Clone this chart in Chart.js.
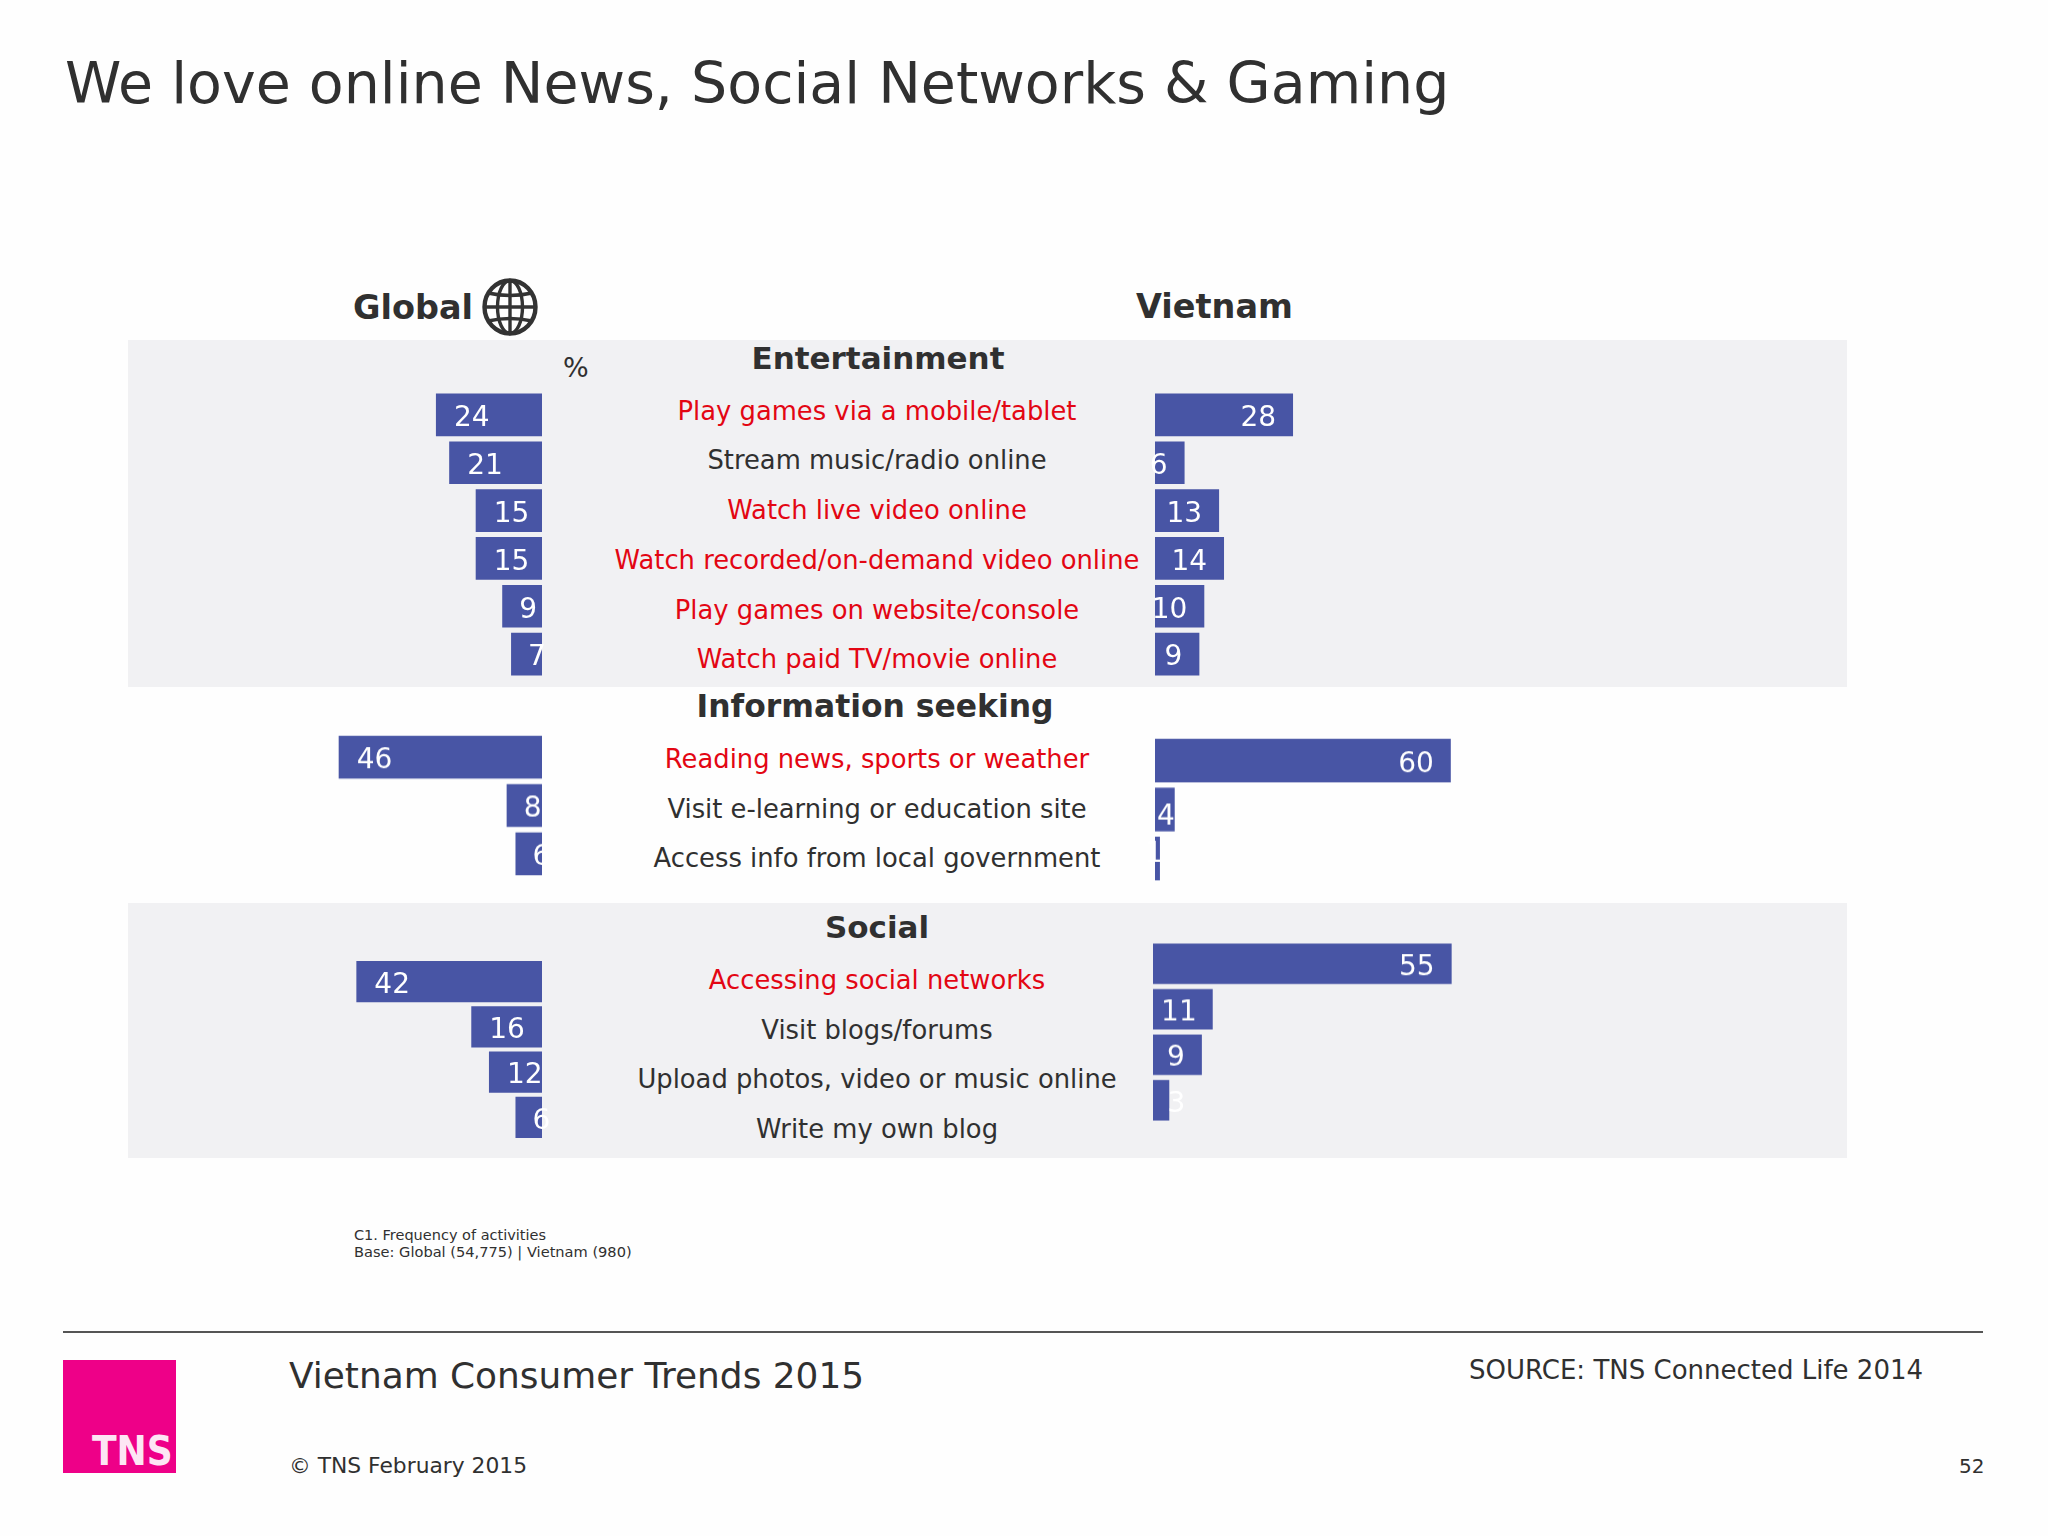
<!DOCTYPE html>
<html><head><meta charset="utf-8">
<script src="https://cdn.jsdelivr.net/npm/chart.js@4"></script>
<style>
html,body{margin:0;padding:0;background:#fefefe;width:2048px;height:1536px;overflow:hidden}
body{position:relative;font-family:"DejaVu Sans",sans-serif;color:#303030}
.t{position:absolute;white-space:nowrap;line-height:1;transform:translateY(-50%)}
.c{transform:translate(-50%,-50%)}
.p{position:absolute;background:#f1f1f3}
canvas{position:absolute}
</style></head><body>
<script>
// ---- data ----
const entertainmentLabels = ["Play games via a mobile/tablet","Stream music/radio online","Watch live video online","Watch recorded/on-demand video online","Play games on website/console","Watch paid TV/movie online"];
const informationLabels = ["Reading news, sports or weather","Visit e-learning or education site","Access info from local government"];
const socialLabels = ["Accessing social networks","Visit blogs/forums","Upload photos, video or music online","Write my own blog"];
const entertainmentHighlighted = [true,false,true,true,true,true];
const informationHighlighted = [true,false,false];
const socialHighlighted = [true,false,false,false];
const globalEntertainment = [24,21,15,15,9,7];
const globalInformation = [46,8,6];
const globalSocial = [42,16,12,6];
const vietnamEntertainment = [28,6,13,14,10,9];
const vietnamInformation = [60,4,1];
const vietnamSocial = [55,11,9,3];

// ---- page furniture ----
function put(text,x,y,size,o={}){
  const d=document.createElement('div');
  d.className='t '+(o.cls||'');d.textContent=text;
  d.style.cssText=`left:${x}px;top:${y}px;font-size:${size}px;`+(o.bold?'font-weight:bold;':'')+(o.color?`color:${o.color};`:'')+(o.css||'');
  document.body.appendChild(d);return d;
}
function panel(x,y,w,h){const d=document.createElement('div');d.className='p';d.style.cssText=`left:${x}px;top:${y}px;width:${w}px;height:${h}px`;document.body.appendChild(d);}
panel(128,340,1719,347);
panel(128,903,1719,255);

put("We love online News, Social Networks & Gaming",65,83,57);
put("Global",353,308,33.5,{bold:true});
put("Vietnam",1136,307,33.5,{bold:true});
put("%",563,367,27);
put("Entertainment",878,358,31,{bold:true,cls:'c'});
put("Information seeking",875,707,31.4,{bold:true,cls:'c'});
put("Social",877,927,31,{bold:true,cls:'c'});

const RED="#e30613";
const labelRows=[
 [entertainmentLabels,entertainmentHighlighted,[412,461,511,561,611,660]],
 [informationLabels,informationHighlighted,[760,810,859]],
 [socialLabels,socialHighlighted,[981,1031,1080,1130]]
];
labelRows.forEach(([ls,hi,ys])=>ls.forEach((s,i)=>put(s,877,ys[i],25.8,{cls:'c',color:hi[i]?RED:'#303030'})));

put("C1. Frequency of activities",354,1235,14.5);
put("Base: Global (54,775) | Vietnam (980)",354,1252,14.6);
const rule=document.createElement('div');rule.style.cssText='position:absolute;left:63px;top:1331px;width:1920px;height:2px;background:#555';document.body.appendChild(rule);
const logo=document.createElement('div');logo.style.cssText='position:absolute;left:63px;top:1360px;width:113px;height:113px;background:#ee0088';document.body.appendChild(logo);
put("TNS",92,1451,41,{bold:true,color:'#fde6f4',css:'transform:translateY(-50%) scaleX(0.88);transform-origin:left center;'});
put("Vietnam Consumer Trends 2015",289,1376,35.9);
put("© TNS February 2015",289,1466,21.8);
put("SOURCE: TNS Connected Life 2014",1469,1370,26);
put("52",1959,1466,20);

// globe icon
const ns='http://www.w3.org/2000/svg';
const globe=document.createElementNS(ns,'svg');
globe.setAttribute('viewBox','0 0 56 58');globe.setAttribute('width','56');globe.setAttribute('height','58');
globe.style.cssText='position:absolute;left:482px;top:278px';
globe.innerHTML='<g fill="none" stroke="#333" stroke-width="3.4"><ellipse cx="28" cy="29" rx="25.5" ry="26.5" stroke-width="4.4"/><ellipse cx="28" cy="29" rx="12.5" ry="26.5"/><line x1="28" y1="2" x2="28" y2="56"/><line x1="2" y1="29" x2="54" y2="29"/><path d="M6 15 Q28 20 50 15"/><path d="M6 43 Q28 38 50 43"/></g>';
document.body.appendChild(globe);

// ---- charts ----
const BAR="#4855a5";
const valueLabels={id:'valueLabels',afterDatasetsDraw(chart,_,o){
  const c=chart.ctx,meta=chart.getDatasetMeta(0);
  c.save();c.fillStyle='#fff';c.font='28px "DejaVu Sans"';c.textBaseline='middle';
  meta.data.forEach((bar,i)=>{
    const v=chart.data.datasets[0].data[i],n=(o.nudge&&o.nudge[i])||[0,0];
    let x;
    if(o.side==='left'){c.textAlign='left';x=bar.x+(v>=10?18:17);}
    else{c.textAlign='right';x=bar.x-17;}
    c.fillText(String(v),x+n[0],bar.y+4+n[1]);
  });
  c.restore();
}};
function barChart(labels,values,g){
  const cv=document.createElement('canvas');
  const pad=24;
  const left=g.side==='left'?g.zero-g.width:g.zero-pad;
  const w=g.width+pad,h=g.pitch*labels.length;
  cv.width=w;cv.height=h;
  cv.style.cssText=`left:${left}px;top:${g.top}px;width:${w}px;height:${h}px`;
  document.body.appendChild(cv);
  const isL=g.side==='left';
  new Chart(cv,{type:'bar',data:{labels,datasets:[{data:values,backgroundColor:BAR,barPercentage:g.thick/g.pitch,categoryPercentage:1}]},
   options:{indexAxis:'y',responsive:false,animation:false,devicePixelRatio:1,layout:{padding:0},
    plugins:{legend:{display:false},tooltip:{enabled:false},valueLabels:{side:g.side,nudge:g.nudge}},
    scales:{
     x:{display:false,reverse:isL,min:-pad/g.scale,max:g.width/g.scale},
     y:{display:false}
    }},plugins:[valueLabels]});
}
const topFor=(firstBarTop,pitch,thick)=>firstBarTop-(pitch-thick)/2;
barChart(entertainmentLabels,globalEntertainment,{side:'left',zero:542,width:230,scale:4.42,pitch:47.9,thick:42.7,top:topFor(393.3,47.9,42.7)});
barChart(informationLabels,globalInformation,{side:'left',zero:542,width:230,scale:4.42,pitch:48.3,thick:43,top:topFor(735.5,48.3,43)});
barChart(socialLabels,globalSocial,{side:'left',zero:542,width:230,scale:4.42,pitch:45.3,thick:41.5,top:topFor(960.5,45.3,41.5)});
barChart(entertainmentLabels,vietnamEntertainment,{side:'right',zero:1155,width:320,scale:4.93,pitch:47.9,thick:42.7,top:topFor(393.3,47.9,42.7)});
barChart(informationLabels,vietnamInformation,{side:'right',zero:1154.7,width:320,scale:4.93,pitch:48.8,thick:43.5,top:topFor(739,48.8,43.5),nudge:{1:[17,4],2:[20,-8]}});
barChart(socialLabels,vietnamSocial,{side:'right',zero:1153,width:320,scale:5.43,pitch:45.4,thick:40.5,top:topFor(943.7,45.4,40.5),nudge:{1:[1,0],3:[33,0]}});
</script>
</body></html>
